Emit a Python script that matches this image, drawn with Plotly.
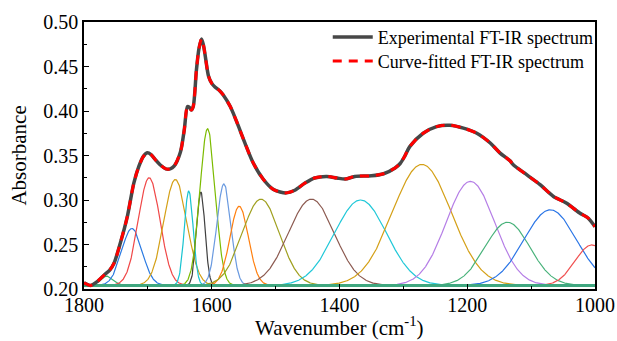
import numpy as np
import plotly.graph_objects as go

# Experimental FT-IR spectrum
wavenumber = [1800, 1790, 1780, 1768, 1760, 1753, 1743, 1732, 1722, 1714, 1707, 1701,
              1695, 1688, 1680, 1672, 1665, 1659, 1649, 1643, 1638, 1635, 1632, 1629,
              1624, 1620, 1616, 1613, 1610, 1605, 1600, 1595, 1588, 1582, 1571, 1561,
              1548, 1535, 1519, 1504, 1493, 1483, 1470, 1454, 1439, 1420, 1404, 1391,
              1376, 1350, 1331, 1313, 1305, 1298, 1290, 1269, 1248, 1227, 1206, 1185,
              1164, 1149, 1133, 1128, 1107, 1086, 1065, 1045, 1024, 1011, 1000]
exp_absorbance = [0.207, 0.204, 0.208, 0.216, 0.221, 0.229, 0.252, 0.282, 0.319, 0.338, 0.349, 0.353,
                  0.351, 0.345, 0.339, 0.335, 0.335, 0.338, 0.354, 0.379, 0.405, 0.404, 0.401, 0.405,
                  0.446, 0.470, 0.481, 0.474, 0.461, 0.439, 0.431, 0.427, 0.423, 0.418, 0.405, 0.388,
                  0.364, 0.3415, 0.323, 0.312, 0.309, 0.308, 0.311, 0.319, 0.3247, 0.3265, 0.3247, 0.3235,
                  0.3265, 0.3272, 0.3295, 0.336, 0.341, 0.349, 0.360, 0.375, 0.3825, 0.384, 0.3807, 0.375,
                  0.364, 0.353, 0.344, 0.3396, 0.3284, 0.3172, 0.304, 0.2966, 0.2854, 0.2798, 0.270]
fit_absorbance = list(exp_absorbance)

# Fitted component bands (Gaussian parameters)
band_center = [1764, 1725, 1698, 1657, 1636, 1617, 1606.5, 1581, 1557, 1523,
               1444, 1367, 1271, 1195, 1137, 1070, 1005]
band_peak = [0.2144, 0.268, 0.325, 0.323, 0.310, 0.309, 0.380, 0.318, 0.293, 0.301,
             0.301, 0.300, 0.340, 0.321, 0.275, 0.289, 0.2495]
band_sigma = [10, 16, 17, 18, 7, 6.5, 12, 11, 14.5, 29,
              36, 41, 46, 38, 35, 41, 26]
band_color = ["#3cb371", "#2a7ae2", "#f04848", "#d4a017", "#17c3d0", "#404040",
              "#7cbb00", "#6a9ae0", "#ff7f0e", "#a0a020", "#8c5a50", "#20c8d8",
              "#d4a017", "#b57ee6", "#48b27a", "#2a75e6", "#f05050"]
baseline = 0.204

font_family = "Liberation Serif, Times New Roman, serif"

fig = go.Figure()
grid = np.linspace(1000, 1800, 1601)
for c, p, s, col in zip(band_center, band_peak, band_sigma, band_color):
    y = baseline + (p - baseline) * np.exp(-0.5 * ((grid - c) / s) ** 2)
    fig.add_trace(go.Scatter(x=grid, y=y, mode="lines", line=dict(color=col, width=1.2),
                             showlegend=False, hoverinfo="skip"))

fig.add_trace(go.Scatter(x=[1800, 1000], y=[baseline, baseline], mode="lines",
                         line=dict(color="#3fa77f", width=3), showlegend=False))

fig.add_trace(go.Scatter(x=wavenumber, y=exp_absorbance, mode="lines",
                         line=dict(color="#474747", width=3.5, shape="spline", smoothing=0.8),
                         name="Experimental FT-IR spectrum", legend="legend"))
fig.add_trace(go.Scatter(x=wavenumber, y=fit_absorbance, mode="lines",
                         line=dict(color="#ff0000", width=3, dash="9px,7px", shape="spline", smoothing=0.8),
                         name="Curve-fitted FT-IR spectrum", legend="legend2"))

leg_common = dict(xanchor="left", yanchor="middle", bgcolor="rgba(0,0,0,0)",
                  font=dict(size=18, family=font_family, color="black"), itemwidth=40)

fig.update_layout(
    width=617, height=341,
    margin=dict(l=84, r=22, t=22, b=52, autoexpand=False),
    plot_bgcolor="white", paper_bgcolor="white",
    font=dict(family=font_family, color="black"),
    legend=dict(x=0.477, y=0.943, **leg_common),
    legend2=dict(x=0.477, y=0.853, **leg_common),
    annotations=[
        dict(text="Wavenumber (cm<sup>-1</sup>)", xref="paper", yref="paper", x=0.5, y=-0.142,
             xanchor="center", yanchor="middle", showarrow=False,
             font=dict(size=21, family=font_family, color="black")),
        dict(text="Absorbance", xref="paper", yref="paper", x=-0.129, y=0.5, textangle=-90,
             xanchor="center", yanchor="middle", showarrow=False,
             font=dict(size=21, family=font_family, color="black")),
    ],
)
fig.update_xaxes(
    range=[1800, 1000], tickmode="linear", tick0=1000, dtick=200,
    ticks="inside", ticklen=5, tickwidth=1, tickcolor="black",
    minor=dict(ticks="inside", ticklen=3, dtick=100, tickcolor="black"),
    showline=True, linecolor="black", linewidth=1.5, mirror=True,
    showgrid=False, zeroline=False, ticklabelstandoff=-3,
    tickfont=dict(size=20, family=font_family),
)
fig.update_yaxes(
    range=[0.20, 0.50], tickmode="linear", tick0=0.20, dtick=0.05, tickformat=".2f",
    ticks="inside", ticklen=5, tickwidth=1, tickcolor="black",
    minor=dict(ticks="inside", ticklen=3, dtick=0.025, tickcolor="black"),
    showline=True, linecolor="black", linewidth=1.5, mirror=True,
    showgrid=False, zeroline=False,
    tickfont=dict(size=20, family=font_family),
)

fig.write_html("out.html", config={"displayModeBar": False},
               post_script="document.body.style.margin='0';document.body.style.padding='0';")
